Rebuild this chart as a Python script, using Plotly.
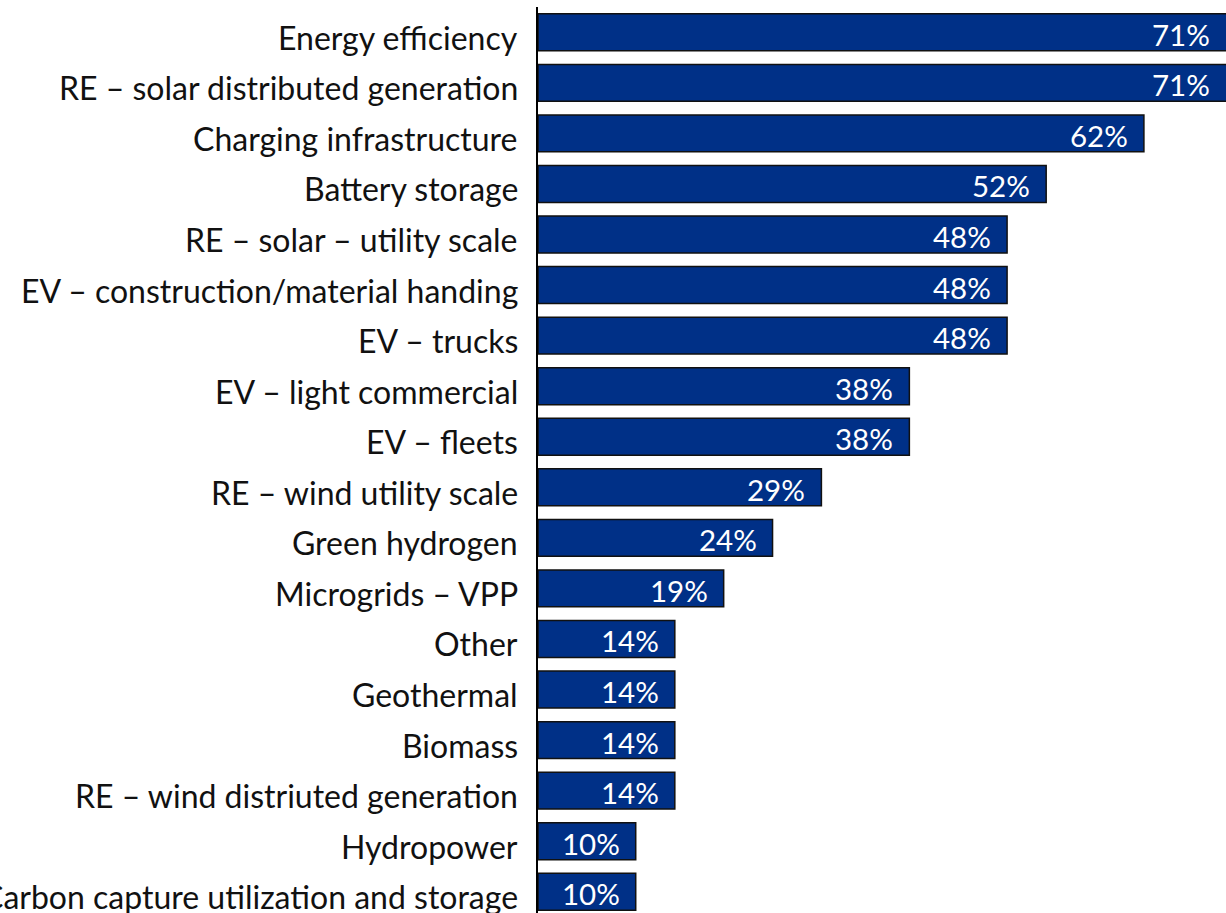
import plotly.graph_objects as go

categories = [
    "Energy efficiency",
    "RE – solar distributed generation",
    "Charging infrastructure",
    "Battery storage",
    "RE – solar – utility scale",
    "EV – construction/material handing",
    "EV – trucks",
    "EV – light commercial",
    "EV – fleets",
    "RE – wind utility scale",
    "Green hydrogen",
    "Microgrids – VPP",
    "Other",
    "Geothermal",
    "Biomass",
    "RE – wind distriuted generation",
    "Hydropower",
    "Carbon capture utilization and storage",
]
values = [71, 71, 62, 52, 48, 48, 48, 38, 38, 29, 24, 19, 14, 14, 14, 14, 10, 10]
value_labels = [f"{v}%" for v in values]

X_MAX = 70.4

fig = go.Figure(go.Bar(
    x=values,
    y=categories,
    orientation="h",
    marker=dict(color="#003087", line=dict(color="#111111", width=1.5)),
    hoverinfo="x+y",
))

annotations = []
for cat, v, lab in zip(categories, values, value_labels):
    annotations.append(dict(
        x=min(v, X_MAX), y=cat, xref="x", yref="y",
        text=lab, showarrow=False, xanchor="right", yanchor="middle",
        xshift=-14, yshift=-2,
        font=dict(family="Lato", size=29.5, color="white"),
    ))
    annotations.append(dict(
        x=0, y=cat, xref="paper", yref="y",
        text=cat, showarrow=False, xanchor="right", yanchor="middle",
        xshift=-18, yshift=-5,
        font=dict(family="Lato", size=32, color="#111111"),
    ))

fig.update_layout(
    width=1226, height=913,
    margin=dict(l=538, r=0, t=7, b=0),
    paper_bgcolor="white", plot_bgcolor="white",
    bargap=0.27,
    showlegend=False,
    annotations=annotations,
)
fig.update_xaxes(range=[0, X_MAX], showgrid=False, zeroline=False,
                 showticklabels=False, showline=False, ticks="")
fig.update_yaxes(range=[17.42, -0.5], showgrid=False, zeroline=False,
                 showline=True, linecolor="black", linewidth=2,
                 ticks="", showticklabels=False)

fig.write_html("out.html")
